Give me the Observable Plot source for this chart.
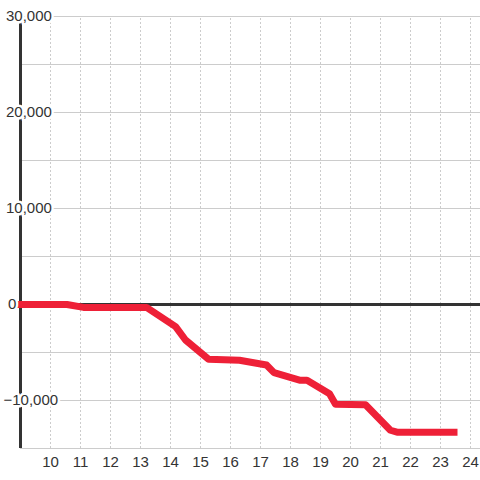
<!DOCTYPE html>
<html>
<head>
<meta charset="utf-8">
<script src="https://cdn.jsdelivr.net/npm/d3@7"></script>
<script src="https://cdn.jsdelivr.net/npm/@observablehq/plot@0.6"></script>
<style>
  html, body { margin: 0; padding: 0; background: #fff; }
</style>
</head>
<body>
<div id="chart"></div>
<script>
const hours  = [9, 10.55, 11.1, 13.2, 14.17, 14.5, 15.27, 16.3, 17.2, 17.45, 18.33, 18.55, 19.3, 19.5, 20.5, 21.33, 21.55, 23.45];
const values = [0, 0, -300, -300, -2300, -3700, -5700, -5800, -6300, -7100, -7900, -7900, -9300, -10400, -10450, -13100, -13300, -13300];
const yGrid = [30000, 25000, 20000, 15000, 10000, 5000, 0, -5000, -10000, -15000];
const yLabels = [30000, 20000, 10000, 0, -10000];
const xTicks = [10, 11, 12, 13, 14, 15, 16, 17, 18, 19, 20, 21, 22, 23, 24];

const data = hours.map((h, i) => ({h, v: values[i]}));
const fmt = d3.format(",");
const ink = "#333";

const chart = Plot.plot({
  width: 480,
  height: 480,
  marginLeft: 20,
  marginRight: 0,
  marginTop: 16,
  marginBottom: 32,
  style: {fontFamily: "'Liberation Sans', Arial, sans-serif", background: "#fff"},
  x: {domain: [9, 24.3333], axis: null},
  y: {domain: [-15000, 30000], axis: null},
  marks: [
    Plot.ruleY(yGrid, {stroke: "#ccc", strokeWidth: 1}),
    Plot.ruleX(xTicks, {y1: -15000, y2: 30000, stroke: "#ccc", strokeDasharray: "2,2"}),
    Plot.ruleY([0], {stroke: ink, strokeWidth: 3}),
    Plot.ruleX([9], {y1: -15000, y2: 30000, stroke: ink, strokeWidth: 3}),
    Plot.line(data, {x: "h", y: "v", stroke: "#ee2037", strokeWidth: 7, strokeLinejoin: "round", strokeLinecap: "square"}),
    Plot.text(yLabels.filter(d => d > 0), {x: () => 9, y: d => d, text: d => fmt(d), textAnchor: "start", dx: -14.5, fontSize: 15, fill: ink, stroke: "#fff", strokeWidth: 5}),
    Plot.text(yLabels.filter(d => d === 0), {x: () => 9, y: d => d, text: d => fmt(d), textAnchor: "start", dx: -12.5, fontSize: 15, fill: ink, stroke: "#fff", strokeWidth: 5}),
    Plot.text(yLabels.filter(d => d < 0), {x: () => 9, y: d => d, text: d => fmt(d), textAnchor: "start", dx: -17, fontSize: 15, fill: ink, stroke: "#fff", strokeWidth: 5}),
    Plot.text(xTicks, {x: d => d, y: () => -15000, text: d => String(d), dy: 13.5, fontSize: 15, fill: ink, textAnchor: "middle"})
  ]
});
document.getElementById("chart").append(chart);
</script>
</body>
</html>
